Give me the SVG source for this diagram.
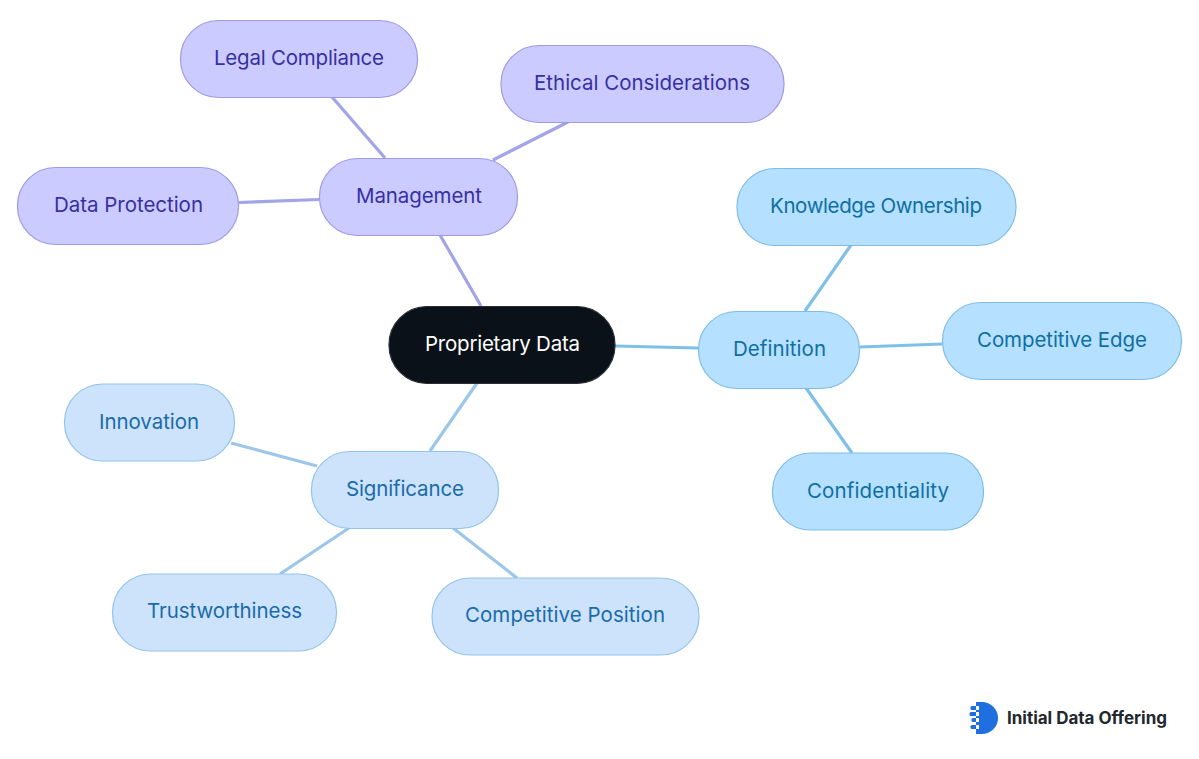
<svg xmlns="http://www.w3.org/2000/svg" width="1199" height="759" viewBox="0 0 1199 759">
<style>
text{font-family:"Inter","Noto Sans",sans-serif;font-size:20.5px;text-anchor:middle;dominant-baseline:central}
rect{stroke-width:1.2}
.v rect{fill:#cbcbff;stroke:#9d9ae6}.v text{fill:#3730a3}
.s rect{fill:#b5e0ff;stroke:#7fbde8}.s text{fill:#0f6fa3}
.b rect{fill:#cde3fc;stroke:#93c3ea}.b text{fill:#1a6baa}
.c line{stroke-width:3.2;fill:none}
.cv line{stroke:#a3a3e8}.cs line{stroke:#7fc0e8}.cb line{stroke:#9cc6ea}
</style>
<rect width="1199" height="759" fill="#fff" style="stroke:none"/>
<g id="connectors" class="c">
<g class="cv">
<line x1="481" y1="306" x2="440" y2="235"/>
<line x1="385" y1="158" x2="332" y2="97"/>
<line x1="493" y1="160" x2="568" y2="122"/>
<line x1="319" y1="199.500" x2="239" y2="202.500"/>
</g>
<g class="cs">
<line x1="615" y1="346" x2="698" y2="348"/>
<line x1="805" y1="311" x2="851" y2="245"/>
<line x1="860" y1="347" x2="942" y2="344"/>
<line x1="806" y1="388" x2="852" y2="453"/>
</g>
<g class="cb">
<line x1="477" y1="383" x2="430" y2="451"/>
<line x1="317" y1="466" x2="231" y2="443"/>
<line x1="349" y1="528" x2="280" y2="574"/>
<line x1="453" y1="528" x2="517" y2="578"/>
</g>
</g>
<g id="root"><rect x="389" y="306.500" width="226" height="77" rx="38" fill="#0b1119" style="stroke:#2a2f36"/><text x="502.500" y="343" fill="#fff" textLength="155">Proprietary Data</text></g>
<g id="management" class="v"><rect x="319.500" y="158.500" width="198" height="77" rx="38"/><text x="419" y="195" textLength="126">Management</text></g>
<g id="legal" class="v"><rect x="180.500" y="20.500" width="237" height="77" rx="38"/><text x="299" y="57" textLength="170">Legal Compliance</text></g>
<g id="ethical" class="v"><rect x="501" y="45.500" width="283" height="77" rx="38"/><text x="642" y="82" textLength="216">Ethical Considerations</text></g>
<g id="dataprotection" class="v"><rect x="17.500" y="167.500" width="221" height="77" rx="38"/><text x="128.500" y="204" textLength="149">Data Protection</text></g>
<g id="definition" class="s"><rect x="698.500" y="311.500" width="161" height="77" rx="38"/><text x="779.500" y="348" textLength="93">Definition</text></g>
<g id="knowledge" class="s"><rect x="737" y="168.500" width="279" height="77" rx="38"/><text x="876" y="205" textLength="212">Knowledge Ownership</text></g>
<g id="edge" class="s"><rect x="942.500" y="302.500" width="239" height="77" rx="38"/><text x="1062" y="339" textLength="170">Competitive Edge</text></g>
<g id="confidentiality" class="s"><rect x="772.500" y="453" width="211" height="77" rx="38"/><text x="878" y="490" textLength="142">Confidentiality</text></g>
<g id="significance" class="b"><rect x="311.500" y="451.500" width="187" height="77" rx="38"/><text x="405" y="488" textLength="118">Significance</text></g>
<g id="innovation" class="b"><rect x="64.500" y="384" width="170" height="77" rx="38"/><text x="149" y="421" textLength="100">Innovation</text></g>
<g id="trust" class="b"><rect x="112.500" y="574" width="224" height="77" rx="38"/><text x="224.500" y="610.500" textLength="155">Trustworthiness</text></g>
<g id="position" class="b"><rect x="432" y="578" width="267" height="77" rx="38"/><text x="565" y="614.500" textLength="200">Competitive Position</text></g>
<g id="logo">
<path d="M976 702h6a16 16 0 0 1 0 32h-6z" fill="#1f6fe0"/>
<g fill="#1f6fe0"><rect x="970.500" y="706" width="8" height="4" rx="1.500" style="stroke:none"/><rect x="969.500" y="712" width="8" height="4" rx="1.500" style="stroke:none"/><rect x="971.500" y="718" width="8" height="4" rx="1.500" style="stroke:none"/><rect x="970.500" y="725" width="8" height="4" rx="1.500" style="stroke:none"/></g>
<g fill="#fff"><rect x="976" y="706" width="3" height="4" style="stroke:none"/><rect x="976" y="712" width="3" height="4" style="stroke:none"/><rect x="976" y="718" width="3" height="4" style="stroke:none"/><rect x="976" y="725" width="3" height="4" style="stroke:none"/></g>
<text x="1087" y="718" fill="#23272e" textLength="160" style="font-size:17px;font-weight:700">Initial Data Offering</text>
</g>
</svg>
